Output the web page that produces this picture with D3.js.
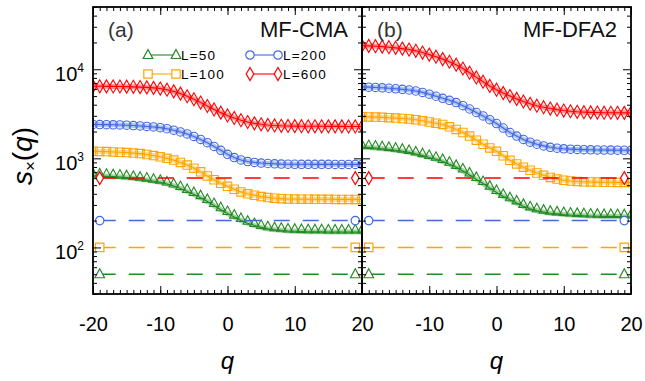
<!DOCTYPE html>
<html>
<head>
<meta charset="utf-8">
<script src="https://cdn.jsdelivr.net/npm/d3@7"></script>
<style>
body { margin: 0; background: #fff; }
text { font-family: "Liberation Sans", Arial, sans-serif; }
</style>
</head>
<body>
<svg id="chart" width="645" height="381"></svg>
<script>
// q grid (same for every curve)
var qValues = [-20,-19,-18,-17,-16,-15,-14,-13,-12,-11,-10,-9,-8,-7,-6,-5,-4,-3,-2,-1,
               0,1,2,3,4,5,6,7,8,9,10,11,12,13,14,15,16,17,18,19,20];

var seriesNames = ["L=50", "L=100", "L=200", "L=600"];
var seriesColors = ["#228b22", "#ffa500", "#4169e1", "#ff0000"];
var seriesSymbols = ["triangle", "square", "circle", "diamond"];
var dashLevels = [50, 100, 200, 600];
var dashEnds = [-19, 19];
var panelTitles = ["MF-CMA", "MF-DFA2"];
var panelLetters = ["(a)", "(b)"];
var xTicks = [-20, -10, 0, 10, 20];
var yTicks = [100, 1000, 10000];

// panel (a) MF-CMA
var cmaL50 = [637,634,628,623,616,607,596,584,570,554,538,516,490,458,425,393,362,328,295,265,
              240,219,201,187,176,168,162,158,156,153,152,151,150,150,150,149,149,149,149,149,149];
var cmaL100 = [1200,1195,1190,1180,1170,1160,1145,1130,1105,1075,1040,1000,955,900,840,775,705,635,575,525,
               485,450,420,400,385,372,363,357,353,350,349,348,348,347,347,347,346,346,346,346,346];
var cmaL200 = [2400,2395,2390,2380,2370,2355,2335,2310,2280,2250,2210,2150,2070,1980,1880,1760,1630,1500,1360,1230,
               1110,1020,960,920,900,885,875,868,862,860,858,857,857,856,856,856,855,855,855,855,855];
var cmaL600 = [6450,6440,6430,6420,6400,6380,6350,6310,6260,6180,6070,5900,5650,5330,4980,4610,4230,3870,3540,3260,
               3030,2840,2680,2560,2470,2410,2370,2340,2320,2310,2300,2295,2290,2290,2290,2285,2285,2285,2280,2280,2280];

// panel (b) MF-DFA2
var dfaL50 = [1335,1322,1304,1282,1259,1233,1202,1166,1121,1072,1024,975,921,859,792,721,650,579,521,463,
              414,374,343,316,289,271,258,249,242,238,234,231,229,227,225,224,223,223,222,221,221];
var dfaL100 = [2930,2920,2905,2885,2860,2830,2800,2765,2710,2640,2560,2480,2400,2260,2110,1950,1780,1600,1440,1310,
               1200,1070,950,865,795,735,685,645,610,585,568,557,550,546,543,541,539,538,537,536,536];
var dfaL200 = [6340,6300,6250,6190,6120,6040,5950,5850,5700,5500,5250,4980,4720,4480,4230,3900,3580,3270,2990,2720,
               2460,2190,1950,1780,1630,1520,1440,1380,1330,1300,1280,1268,1260,1252,1247,1243,1240,1237,1235,1232,1230];
var dfaL600 = [18400,18300,18150,17950,17700,17400,17050,16650,16100,15400,14600,13850,13000,12150,11250,10200,9150,8100,7250,6500,
               5900,5400,5000,4650,4350,4100,3900,3750,3620,3520,3440,3380,3330,3300,3280,3265,3255,3250,3245,3240,3240];

var panelSeries = [[cmaL50, cmaL100, cmaL200, cmaL600], [dfaL50, dfaL100, dfaL200, dfaL600]];

var svg = d3.select("#chart");
var plotTop = 7, plotBottom = 294;
var panels = [[93, 362], [362, 631]];

var y = d3.scaleLog().domain([30, 50000]).range([plotBottom, plotTop]);

var symbolPath = {
    triangle: "M0,-7.5L4.6,1L-4.6,1Z",
    square: "M-4.2,-4.2h8.4v8.4h-8.4Z",
    circle: "M4.2,0A4.2,4.2 0 1,1 -4.2,0A4.2,4.2 0 1,1 4.2,0Z",
    diamond: "M0,-6.5L3.8,0L0,6.5L-3.8,0Z"
};
var endPath = {
    triangle: "M0,-5.5L4.8,3.5L-4.8,3.5Z",
    square: symbolPath.square,
    circle: symbolPath.circle,
    diamond: symbolPath.diamond
};

// log minor tick values
var minorY = [];
[10, 100, 1000, 10000].forEach(function(dec){
    for (var k = 2; k <= 9; k++){
        var v = dec * k;
        if (v >= 30 && v <= 50000) minorY.push(v);
    }
});

function strip(sel){ sel.select(".domain").remove(); sel.selectAll("line").attr("stroke-width", 1); }

panels.forEach(function(p, pi){
    var x = d3.scaleLinear().domain([-20, 20]).range(p);
    var g = svg.append("g");

    g.append("clipPath").attr("id", "clip" + pi)
        .append("rect").attr("x", p[0]).attr("y", plotTop).attr("width", p[1] - p[0]).attr("height", plotBottom - plotTop);

    var plot = g.append("g").attr("clip-path", "url(#clip" + pi + ")");
    var line = d3.line().x(function(d, i){ return x(qValues[i]); }).y(function(d){ return y(d); });

    panelSeries[pi].forEach(function(vals, si){
        var c = seriesColors[si];
        plot.append("path").datum(vals).attr("d", line)
            .attr("fill", "none").attr("stroke", c).attr("stroke-opacity", 0.4).attr("stroke-width", 5);
        plot.append("path").datum(vals).attr("d", line)
            .attr("fill", "none").attr("stroke", c).attr("stroke-width", 1.1);
        plot.selectAll(".m" + si).data(vals).enter().append("path")
            .attr("transform", function(d, i){ return "translate(" + x(qValues[i]) + "," + y(d) + ")"; })
            .attr("d", symbolPath[seriesSymbols[si]])
            .attr("fill", "none").attr("stroke", c).attr("stroke-width", 1.1);
    });

    // reference levels
    dashLevels.forEach(function(lv, si){
        var c = seriesColors[si];
        plot.append("line")
            .attr("x1", x(dashEnds[0])).attr("x2", x(dashEnds[1]))
            .attr("y1", y(lv)).attr("y2", y(lv))
            .attr("stroke", c).attr("stroke-width", 1.5).attr("stroke-dasharray", "16,13");
        dashEnds.forEach(function(q){
            plot.append("path").attr("transform", "translate(" + x(q) + "," + y(lv) + ")")
                .attr("d", endPath[seriesSymbols[si]])
                .attr("fill", "#fff").attr("stroke", c).attr("stroke-width", 1.2);
        });
    });

    // axes, ticks inside on all sides
    g.append("g").attr("transform", "translate(0," + plotBottom + ")")
        .call(d3.axisBottom(x).tickValues(xTicks).tickSize(-8).tickPadding(23)
            .tickFormat(function(d){ return (pi === 1 && d === -20) ? "" : String(d); }))
        .call(strip)
        .selectAll("text").attr("font-size", 20).attr("fill", "#000")
        .attr("font-family", "'Liberation Sans', Arial, sans-serif");
    g.append("g").attr("transform", "translate(0," + plotBottom + ")")
        .call(d3.axisBottom(x).tickValues(qValues).tickSize(-4).tickFormat("")).call(strip);
    g.append("g").attr("transform", "translate(0," + plotTop + ")")
        .call(d3.axisTop(x).tickValues(xTicks).tickSize(-8).tickFormat("")).call(strip);
    g.append("g").attr("transform", "translate(0," + plotTop + ")")
        .call(d3.axisTop(x).tickValues(qValues).tickSize(-4).tickFormat("")).call(strip);

    g.append("g").attr("transform", "translate(" + p[0] + ",0)")
        .call(d3.axisLeft(y).tickValues(yTicks).tickSize(-8).tickFormat("")).call(strip);
    g.append("g").attr("transform", "translate(" + p[0] + ",0)")
        .call(d3.axisLeft(y).tickValues(minorY).tickSize(-4).tickFormat("")).call(strip);
    g.append("g").attr("transform", "translate(" + p[1] + ",0)")
        .call(d3.axisRight(y).tickValues(yTicks).tickSize(-8).tickFormat("")).call(strip);
    g.append("g").attr("transform", "translate(" + p[1] + ",0)")
        .call(d3.axisRight(y).tickValues(minorY).tickSize(-4).tickFormat("")).call(strip);

    g.append("rect").attr("x", p[0]).attr("y", plotTop).attr("width", p[1] - p[0]).attr("height", plotBottom - plotTop)
        .attr("fill", "none").attr("stroke", "#000").attr("stroke-width", 1.8);

    g.append("text").attr("x", p[0] + 15).attr("y", 37).attr("font-size", 21).attr("fill", "#333")
        .text(panelLetters[pi]);
    g.append("text").attr("x", p[1] - 14).attr("y", 37).attr("font-size", 22).attr("fill", "#111")
        .attr("text-anchor", "end").text(panelTitles[pi]);

    g.append("text").attr("x", (p[0] + p[1]) / 2).attr("y", 369).attr("font-size", 24)
        .attr("font-style", "italic").attr("text-anchor", "middle").text("q");
});

// y tick labels 10^n
yTicks.forEach(function(v){
    var t = svg.append("text").attr("x", 84).attr("y", y(v) + 12).attr("text-anchor", "end").attr("font-size", 20);
    t.append("tspan").text("10");
    t.append("tspan").attr("dy", -9).attr("font-size", 12).text(Math.round(Math.log10(v)));
});

// y label
var yl = svg.append("text").attr("transform", "translate(32,156) rotate(-90)")
    .attr("text-anchor", "middle").attr("font-size", 28);
yl.append("tspan").attr("font-style", "italic").text("s");
yl.append("tspan").attr("font-size", 17).attr("dy", 4).text("×");
yl.append("tspan").attr("dy", -4).text("(");
yl.append("tspan").attr("font-style", "italic").text("q");
yl.append("tspan").text(")");

// legend
var legendPos = [[148, 55], [148, 74], [250, 55], [250, 74]];
seriesNames.forEach(function(name, si){
    var lp = legendPos[si];
    var c = seriesColors[si];
    var lg = svg.append("g");
    lg.append("line").attr("x1", lp[0]).attr("x2", lp[0] + 28).attr("y1", lp[1]).attr("y2", lp[1])
        .attr("stroke", c).attr("stroke-width", 1.1);
    [lp[0], lp[0] + 28].forEach(function(xx){
        lg.append("path").attr("transform", "translate(" + xx + "," + lp[1] + ")")
            .attr("d", endPath[seriesSymbols[si]]).attr("fill", "#fff").attr("stroke", c).attr("stroke-width", 1.2);
    });
    lg.append("text").attr("x", lp[0] + 33).attr("y", lp[1] + 5).attr("font-size", 13.5)
        .attr("letter-spacing", 1.2).attr("fill", "#000").text(name);
});
</script>
</body>
</html>
